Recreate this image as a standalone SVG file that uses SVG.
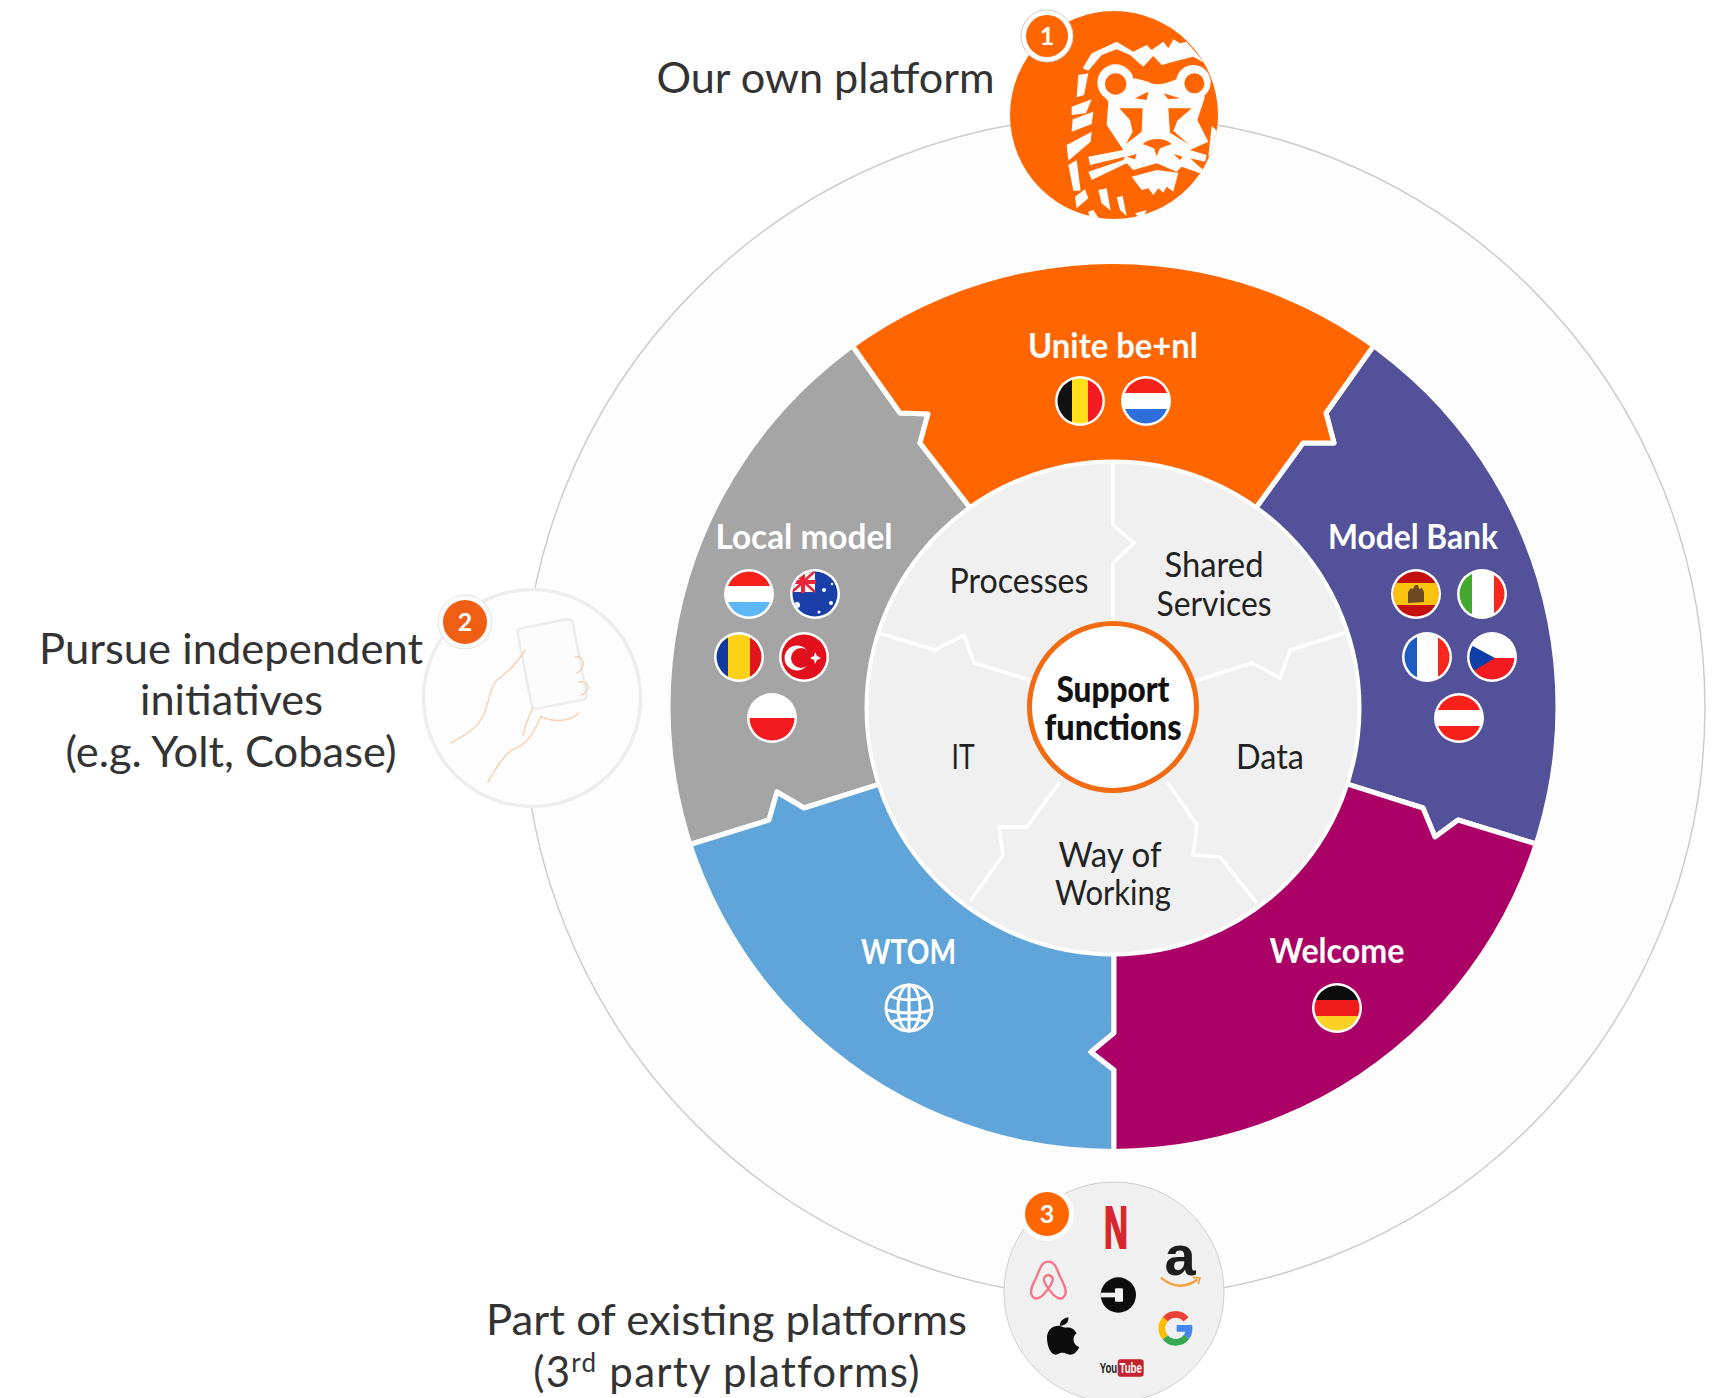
<svg xmlns="http://www.w3.org/2000/svg" width="1722" height="1398" viewBox="0 0 1722 1398">
<style>
text{font-family:"Lato","Noto Sans","Liberation Sans",sans-serif;text-anchor:middle}
.big{font-size:42px;fill:#333}
.seg{font-size:35px;font-weight:700;fill:#fff}
.in{font-size:35px;fill:#222}
.sup{font-size:36px;font-weight:900;fill:#111}
.bn{font-size:25px;font-weight:700;fill:#fff}
.lg{font-family:"Liberation Sans",sans-serif;font-weight:700}
.s{stroke:#fff;stroke-width:5;stroke-linejoin:round}
.dv{fill:none;stroke:#fff;stroke-width:3.5;stroke-linejoin:round;stroke-linecap:round}
.ring{fill:#fff}
.hand{fill:none;stroke:#f6d2b6;stroke-width:1.5;stroke-linecap:round;stroke-linejoin:round}
</style>
<defs>
<clipPath id="disc"><circle cx="1113" cy="706.5" r="442.5"/></clipPath>
<clipPath id="fc"><circle r="22.5"/></clipPath>
<clipPath id="lionc"><circle cx="462" cy="346" r="312"/></clipPath>
</defs>
<rect width="1722" height="1398" fill="#fff"/>
<circle id="platform-ring" cx="1114" cy="707" r="591" fill="#fdfdfd" stroke="#cdcdcd" stroke-width="1.5"/>

<g id="segments" clip-path="url(#disc)">
<polygon id="seg-local" class="s" fill="#a5a5a5" points="1113,707 968,505 920,443 928,414 900,413 854,348 808,283 500,400 500,800 626,864 695,843 769,820 777,792 804,808 877,785"/>
<polygon id="seg-model" class="s" fill="#525199" points="1113,707 1258,505 1303,443 1334,443 1326,413 1372,348 1418,283 1720,400 1720,800 1600,864 1533,843 1458,820 1435,837 1423,808 1350,785"/>
<polygon id="seg-unite" class="s" fill="#ff6600" points="1113,707 968,505 920,443 928,414 900,413 854,348 808,283 1113,150 1418,283 1372,348 1326,413 1334,443 1303,443 1258,505"/>
<polygon id="seg-wtom" class="s" fill="#5fa5da" points="1113,707 877,785 804,808 777,792 769,820 695,843 626,864 700,1250 1114,1250 1114,1148 1114,1070 1091,1052 1114,1033 1114,956"/>
<polygon id="seg-welcome" class="s" fill="#ab0066" points="1113,707 1350,785 1423,808 1435,837 1458,820 1533,843 1600,864 1530,1250 1114,1250 1114,1148 1114,1070 1091,1052 1114,1033 1114,956"/>
</g>

<g id="support-wheel">
<circle cx="1113" cy="708" r="246.5" fill="#f0f0f0" stroke="#fff" stroke-width="4"/>
<g id="dividers">
<polyline class="dv" points="1113,463 1113,525 1134,543 1113,563 1113,622"/>
<polyline class="dv" points="879,633 935,650 964,635 974,663 1030,680"/>
<polyline class="dv" points="1344,633 1290,650 1280,678 1252,663 1198,680"/>
<polyline class="dv" points="1059,783 1027,827 999,827 1003,855 971,900"/>
<polyline class="dv" points="1168,783 1197,825 1193,855 1220,857 1256,902"/>
</g>
<text class="in" x="1019" y="593" textLength="139" lengthAdjust="spacingAndGlyphs">Processes</text>
<text class="in" x="1214" y="577" textLength="99" lengthAdjust="spacingAndGlyphs">Shared</text>
<text class="in" x="1214" y="616" textLength="115" lengthAdjust="spacingAndGlyphs">Services</text>
<text class="in" x="963" y="769" textLength="23" lengthAdjust="spacingAndGlyphs">IT</text>
<text class="in" x="1270" y="769" textLength="68" lengthAdjust="spacingAndGlyphs">Data</text>
<text class="in" x="1110" y="867" textLength="103" lengthAdjust="spacingAndGlyphs">Way of</text>
<text class="in" x="1113" y="905" textLength="116" lengthAdjust="spacingAndGlyphs">Working</text>
<g id="support-center">
<circle cx="1113" cy="707" r="83.5" fill="#fff" stroke="#f26a12" stroke-width="5"/>
<text class="sup" x="1113" y="702" textLength="113" lengthAdjust="spacingAndGlyphs">Support</text>
<text class="sup" x="1113" y="740" textLength="137" lengthAdjust="spacingAndGlyphs">functions</text>
</g>
</g>

<g id="seg-labels">
<text class="seg" x="1113" y="357.500" textLength="170" lengthAdjust="spacingAndGlyphs">Unite be+nl</text>
<text class="seg" x="804" y="549" textLength="177" lengthAdjust="spacingAndGlyphs">Local model</text>
<text class="seg" x="1413" y="549" textLength="170" lengthAdjust="spacingAndGlyphs">Model Bank</text>
<text class="seg" x="908.500" y="964" textLength="95" lengthAdjust="spacingAndGlyphs">WTOM</text>
<text class="seg" x="1337" y="963" textLength="135" lengthAdjust="spacingAndGlyphs">Welcome</text>
</g>

<g id="flags">
<g id="flag-be" transform="translate(1080,401)"><circle r="25" class="ring"/><g clip-path="url(#fc)"><rect x="-25" y="-25" width="17" height="50" fill="#111"/><rect x="-8" y="-25" width="16" height="50" fill="#fde01a"/><rect x="8" y="-25" width="17" height="50" fill="#f31b20"/></g></g>
<g id="flag-nl" transform="translate(1146,401)"><circle r="25" class="ring"/><g clip-path="url(#fc)"><rect x="-25" y="-25" width="50" height="17" fill="#f42218"/><rect x="-25" y="-8" width="50" height="16" fill="#fff"/><rect x="-25" y="8" width="50" height="17" fill="#2f6fdb"/></g></g>

<g id="flag-lu" transform="translate(749,594)"><circle r="25" class="ring"/><g clip-path="url(#fc)"><rect x="-25" y="-25" width="50" height="17" fill="#f7211a"/><rect x="-25" y="-8" width="50" height="16" fill="#fff"/><rect x="-25" y="8" width="50" height="17" fill="#5db7f5"/></g></g>
<g id="flag-au" transform="translate(815,594)"><circle r="25" class="ring"/><g clip-path="url(#fc)"><rect x="-25" y="-25" width="50" height="50" fill="#1a3fa8"/><rect x="-23" y="-23" width="23" height="21" fill="#f7f7f7"/><path d="M-23,-23L0,-2M-23,-2L0,-23" stroke="#e8263a" stroke-width="2.5"/><path d="M-12,-24V-1M-24,-12H1" stroke="#e8263a" stroke-width="4"/><g fill="#fff"><circle cx="9" cy="-4" r="2"/><circle cx="17" cy="-10" r="1.2"/><circle cx="16" cy="9" r="2"/><circle cx="-18" cy="11" r="3"/><circle cx="4" cy="18" r="1.5"/></g></g></g>
<g id="flag-ro" transform="translate(739,657)"><circle r="25" class="ring"/><g clip-path="url(#fc)"><rect x="-11" y="-25" width="22" height="50" fill="#fcd116"/><rect x="11" y="-25" width="14" height="50" fill="#e2141c"/><rect x="-25" y="-25" width="14" height="50" fill="#14399e"/></g></g>
<g id="flag-tr" transform="translate(804,657)"><circle r="25" class="ring"/><g clip-path="url(#fc)"><rect x="-25" y="-25" width="50" height="50" fill="#e2101c"/><circle cx="-7" cy="1" r="12.5" fill="#fff"/><circle cx="-3" cy="1" r="10" fill="#e2101c"/><polygon points="6,1 10,-1 11,-5 13,-1 17,1 13,3 11,7 10,3" fill="#fff"/></g></g>
<g id="flag-pl" transform="translate(772,718)"><circle r="25" class="ring"/><g clip-path="url(#fc)"><rect x="-25" y="0" width="50" height="25" fill="#f31b20"/></g></g>

<g id="flag-es" transform="translate(1416,594)"><circle r="25" class="ring"/><g clip-path="url(#fc)"><rect x="-25" y="-25" width="50" height="50" fill="#c4100f"/><rect x="-25" y="-11" width="50" height="22" fill="#f9c30e"/><path d="M-8,-2 L-5,-6 L-3,-5 L-1,-9 L2,-9 L3,-5 L6,-6 L8,-2 L8,8 L-8,9Z" fill="#6d4a22"/></g></g>
<g id="flag-it" transform="translate(1482,594)"><circle r="25" class="ring"/><g clip-path="url(#fc)"><rect x="-25" y="-25" width="50" height="50" fill="#fff"/><rect x="-25" y="-25" width="15" height="50" fill="#43a82e"/><rect x="12" y="-25" width="13" height="50" fill="#f9261c"/></g></g>
<g id="flag-fr" transform="translate(1427,657)"><circle r="25" class="ring"/><g clip-path="url(#fc)"><rect x="-25" y="-25" width="15" height="50" fill="#1b5cc4"/><rect x="11" y="-25" width="14" height="50" fill="#f9261c"/></g></g>
<g id="flag-cz" transform="translate(1492,657)"><circle r="25" class="ring"/><g clip-path="url(#fc)"><rect x="-25" y="1" width="50" height="25" fill="#f31b20"/><polygon points="-25,-14 3,1 -25,18" fill="#0f3ea6"/></g></g>
<g id="flag-at" transform="translate(1459,718)"><circle r="25" class="ring"/><g clip-path="url(#fc)"><rect x="-25" y="-25" width="50" height="17" fill="#f7211a"/><rect x="-25" y="8" width="50" height="17" fill="#f7211a"/></g></g>

<g id="flag-de" transform="translate(1337,1008)"><circle r="25" class="ring"/><g clip-path="url(#fc)"><rect x="-25" y="-25" width="50" height="17" fill="#0c0c0c"/><rect x="-25" y="-8" width="50" height="16" fill="#ef1a1a"/><rect x="-25" y="8" width="50" height="17" fill="#fbd125"/></g></g>

<g id="globe" transform="translate(909,1008)" fill="none" stroke="#fff" stroke-width="3"><circle r="23"/><ellipse rx="11" ry="23"/><path d="M0,-23V23M-19,-12C-8,-7 8,-7 19,-12M-23,2C-8,6 8,6 23,2M-18,14C-8,10 8,10 18,14"/></g>
</g>

<g id="node-own-platform">
<circle cx="1114" cy="115" r="104" fill="#ff6600"/>
<g id="lion" transform="translate(960,0) scale(.33333)" fill="#fdfdfd" clip-path="url(#lionc)">
<polygon points="368,205 395,160 470,125 520,155 560,135 575,150 610,125 625,145 640,118 660,130 680,125 735,190 700,170 640,185 605,195 580,168 550,200 510,165 470,148 425,165 385,212"/>
<circle cx="467" cy="248" r="55"/><circle cx="700" cy="247" r="52"/>
<path d="M430,285 L525,235 L565,245 C590,260 620,250 650,238 L735,290 L712,360 L745,425 L690,450 L740,465 L735,485 L690,475 L730,510 L720,520 L665,500 L650,515 L590,490 L520,510 L500,490 L395,540 L385,515 L490,480 L495,470 L390,495 L385,470 L490,450 L440,375 L445,305Z"/>
<g fill="#ff6600">
<circle cx="467" cy="252" r="32"/><circle cx="703" cy="250" r="30"/>
<polygon points="478,325 548,325 545,395 498,432 518,395 510,360"/>
<polygon points="625,325 695,325 652,362 640,392 685,432 630,398"/>
<polygon points="525,295 565,275 560,300"/><polygon points="610,280 660,295 625,298"/>
<path d="M548,432 C570,412 615,412 635,432 L600,445 L590,468 L582,445Z"/>
<polygon points="500,470 530,462 525,478"/><polygon points="640,462 668,470 660,480"/>
</g>
<polygon points="515,530 590,510 655,518 640,575 620,560 610,578 595,565 580,585 565,565 545,570"/>
<polygon points="355,225 385,220 372,285 350,292"/>
<polygon points="335,320 395,298 378,340 335,345"/>
<polygon points="338,358 400,335 395,372 335,395"/>
<polygon points="320,435 395,395 392,425 325,482"/>
<polygon points="325,495 350,480 362,572 340,572"/>
<polygon points="345,590 375,568 385,595 350,625"/>
<polygon points="415,570 440,565 452,632 425,610"/>
<polygon points="470,592 488,588 500,648 480,630"/>
<polygon points="755,378 775,395 762,450 745,470"/>
<polygon points="385,635 400,630 420,660 390,660"/>
<polygon points="525,640 560,630 545,660"/>
</g>
<g id="badge-1"><circle cx="1047" cy="36" r="26" fill="#fff" stroke="#ccc" stroke-width="1"/><circle cx="1047" cy="36" r="21" fill="#ff6600"/><text class="bn" x="1047" y="45">1</text></g>
<text class="big" x="825.5" y="93" textLength="338" lengthAdjust="spacingAndGlyphs">Our own platform</text>
</g>

<g id="node-independent">
<circle cx="532" cy="698" r="108.5" fill="#fdfdfd" stroke="#eeeeee" stroke-width="3.5"/>
<g id="hand">
<rect x="-28" y="-40" width="56" height="82" rx="5" transform="translate(552,663) rotate(-11)" fill="#fcfcfc" stroke="#ececec" stroke-width="2.5"/>
<path class="hand" d="M451,743 C470,732 478,728 485,712 C490,695 492,685 497,680 C508,672 518,662 525,650"/>
<path class="hand" d="M523,735 C526,722 530,714 533,707"/>
<path class="hand" d="M488,782 C495,770 503,756 512,750 C528,745 535,730 541,716"/>
<path class="hand" d="M542,717 C552,722 570,722 579,713"/>
<path class="hand" d="M575,657 C585,655 586,668 577,673"/>
<path class="hand" d="M579,682 C590,680 591,692 581,695"/>
</g>
<g id="badge-2"><circle cx="465" cy="622" r="27" fill="#fbfbfb" stroke="#e4e4e4" stroke-width="1"/><circle cx="465" cy="622" r="22" fill="#ee5f14"/><text class="bn" x="465" y="631">2</text></g>
<text class="big" x="231" y="664" textLength="384" lengthAdjust="spacingAndGlyphs">Pursue independent</text>
<text class="big" x="231.5" y="715" textLength="183" lengthAdjust="spacingAndGlyphs">initiatives</text>
<text class="big" x="231" y="767" textLength="331" lengthAdjust="spacingAndGlyphs">(e.g. Yolt, Cobase)</text>
</g>

<g id="node-third-party">
<circle cx="1114" cy="1292" r="110" fill="#f0f0f0" stroke="#cfcfcf" stroke-width="1"/>
<g id="logos">
<text class="lg" x="1116" y="1248" font-size="60" fill="#d8262e" stroke="#d8262e" stroke-width="2" textLength="24" lengthAdjust="spacingAndGlyphs">N</text>
<text class="lg" x="1180" y="1275" font-size="56" fill="#1c1c1c">a</text>
<text class="lg" x="1108.500" y="1373" font-size="15.500" fill="#222" textLength="17.500" lengthAdjust="spacingAndGlyphs">You</text>
<rect x="1117.700" y="1359.300" width="26" height="17.400" rx="3" fill="#c4232d"/>
<text class="lg" x="1130.700" y="1373" font-size="15.500" fill="#fff" textLength="22.500" lengthAdjust="spacingAndGlyphs">Tube</text>
<g transform="translate(980,1160) scale(.33333)">
<path d="M205,385 C190,365 185,350 205,345 C225,350 220,365 205,385 C225,415 245,425 255,405 C262,390 250,370 240,350 C230,325 225,305 205,305 C185,305 180,325 170,350 C160,370 148,390 155,405 C165,425 185,415 205,385Z" fill="none" stroke="#f2788a" stroke-width="7"/>
<path d="M545,355 C585,385 620,382 650,360" fill="none" stroke="#f5a13a" stroke-width="7" stroke-linecap="round"/>
<path d="M638,352 L660,354 L655,372" fill="none" stroke="#f5a13a" stroke-width="5"/>
<circle cx="415" cy="405" r="53" fill="#0c0c0c"/>
<rect x="362" y="398" width="60" height="14" fill="#f0f0f0"/>
<rect x="405" y="385" width="24" height="40" rx="3" fill="#f0f0f0"/>
<path d="M265,472 C267,488 255,498 240,497 C238,485 250,474 265,472Z" fill="#0c0c0c"/>
<path d="M290,520 C275,530 278,555 298,562 C288,582 275,588 262,582 C250,576 240,578 232,583 C215,590 200,560 201,530 C203,500 235,490 250,502 C262,505 275,495 290,520Z" fill="#0c0c0c"/>
<g fill="none" stroke-width="20">
<path d="M618,478 A40,40 0 0 0 556,478" stroke="#ea4335"/>
<path d="M556,478 A40,40 0 0 0 556,532" stroke="#fbbc05"/>
<path d="M556,532 A40,40 0 0 0 620,530" stroke="#34a853"/>
<path d="M620,530 A40,40 0 0 0 627,505 H590" stroke="#4285f4"/>
</g>
</g>
</g>
<g id="badge-3"><circle cx="1047" cy="1214" r="27" fill="#fdfdfd"/><circle cx="1047" cy="1214" r="22" fill="#ff6600"/><text class="bn" x="1047" y="1223">3</text></g>
<text class="big" x="726.5" y="1335" textLength="481" lengthAdjust="spacingAndGlyphs">Part of existing platforms</text>
<text class="big" x="727" y="1387" style="letter-spacing:1.25px">(3<tspan font-size="26" dy="-15">rd</tspan><tspan dy="15"> party platforms)</tspan></text>
</g>
</svg>
